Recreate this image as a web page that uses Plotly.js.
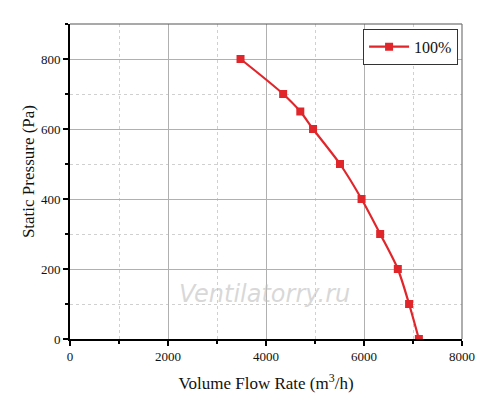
<!DOCTYPE html>
<html>
<head>
<meta charset="utf-8">
<script src="https://cdn.plot.ly/plotly-3.0.1.min.js"></script>
<style>html,body{margin:0;padding:0;background:#fff;}#chart{width:500px;height:416px;}</style>
</head>
<body>
<div id="chart"></div>
<script>
var seriesName = "100%";
var flowRate = [3480, 4350, 4700, 4960, 5510, 5950, 6330, 6690, 6920, 7120];
var staticPressure = [800, 700, 650, 600, 500, 400, 300, 200, 100, 0];
var xTickVals = [0, 2000, 4000, 6000, 8000];
var yTickVals = [0, 200, 400, 600, 800];

var red = "#e0262b";
var trace = {
  x: flowRate, y: staticPressure, name: seriesName,
  type: "scatter", mode: "lines+markers",
  line: {color: red, width: 2.2, shape: "spline", smoothing: 0.8},
  marker: {symbol: "square", size: 8, color: red}
};
var font = {family: "Liberation Serif, Times New Roman, serif", color: "#111"};
var layout = {
  width: 500, height: 416,
  margin: {l: 70, r: 38, t: 24, b: 77},
  paper_bgcolor: "#fff", plot_bgcolor: "#fff",
  font: font,
  showlegend: true,
  legend: {x: 0.99, y: 0.985, xanchor: "right", yanchor: "top",
    bordercolor: "#333", borderwidth: 1, bgcolor: "#fff",
    font: {family: font.family, size: 16, color: "#111"},
    itemwidth: 40, tracegroupgap: 0},
  xaxis: {
    range: [0, 8000], tickvals: xTickVals, ticktext: xTickVals.map(String),
    ticks: "outside", ticklen: 5, tickwidth: 1.2, tickcolor: "#000",
    showline: true, linecolor: "#000", linewidth: 1.8,
    showgrid: true, gridcolor: "#b0b0b0", gridwidth: 1, zeroline: false,
    tickfont: {family: font.family, size: 13, color: "#111"},
    minor: {dtick: 1000, showgrid: true, gridcolor: "#d0d0d0", griddash: "dot", ticks: "outside", ticklen: 3, tickcolor: "#000"},
    title: {text: "Volume Flow Rate (m<sup>3</sup>/h)", font: {family: font.family, size: 17, color: "#111"}, standoff: 14}
  },
  yaxis: {
    range: [0, 900], tickvals: yTickVals, ticktext: yTickVals.map(String),
    ticks: "outside", ticklen: 5, tickwidth: 1.2, tickcolor: "#000",
    showline: true, linecolor: "#000", linewidth: 1.8,
    showgrid: true, gridcolor: "#b0b0b0", gridwidth: 1, zeroline: false,
    tickfont: {family: font.family, size: 13, color: "#111"},
    minor: {dtick: 100, showgrid: true, gridcolor: "#d0d0d0", griddash: "dot", ticks: "outside", ticklen: 3, tickcolor: "#000"}
  },
  shapes: [
    {type: "line", xref: "paper", yref: "paper", x0: 0, x1: 1, y0: 1, y1: 1, line: {color: "#555", width: 1.2}},
    {type: "line", xref: "paper", yref: "paper", x0: 1, x1: 1, y0: 0, y1: 1, line: {color: "#777", width: 1.2}}
  ],
  annotations: [
    {text: "Static Pressure (Pa)", xref: "paper", yref: "paper", x: -0.107, y: 0.53,
     xanchor: "center", yanchor: "middle", textangle: -90, showarrow: false,
     font: {family: font.family, size: 17, color: "#111"}},
    {text: "<i>Ventilatorry.ru</i>", xref: "paper", yref: "paper", x: 0.72, y: 0.092,
     showarrow: false, font: {family: "DejaVu Sans, sans-serif", size: 24, color: "rgba(190,190,190,0.6)"}}
  ]
};
Plotly.newPlot("chart", [trace], layout, {displayModeBar: false, staticPlot: true});
</script>
</body>
</html>
